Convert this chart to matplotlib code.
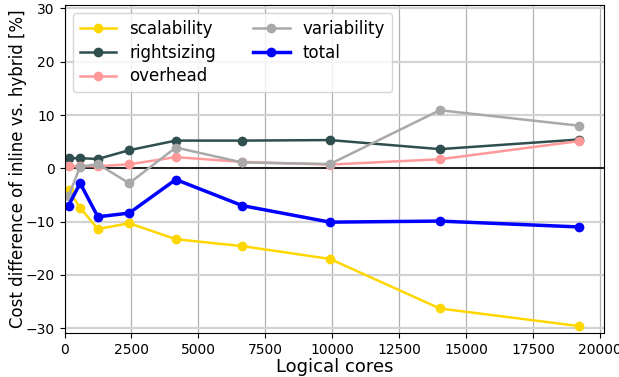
# Cost difference of inline vs. hybrid, per component

import numpy as np
from matplotlib import pyplot as plt

# Data
cores = [150, 585, 1246, 2414, 4157, 6642, 9914, 14019, 19205]
scalability = [-4.1, -7.4, -11.4, -10.3, -13.3, -14.6, -17.0, -26.3, -29.6]
rightsizing = [1.9, 1.9, 1.75, 3.4, 5.2, 5.2, 5.3, 3.6, 5.4]
overhead = [0.4, 0.4, 0.4, 0.75, 2.1, 1.2, 0.7, 1.7, 5.1]
variability = [-5.2, 0.3, 0.8, -2.8, 3.9, 1.1, 0.8, 10.9, 8.0]
total = [-7.0, -2.8, -9.1, -8.4, -2.1, -7.0, -10.1, -9.9, -11.0]

fig = plt.figure(figsize=(6.19, 3.77), dpi=100)
ax = fig.add_axes([64.5/619, 1 - 333/377, 539.5/619, 328.3/377])

ax.plot(cores, scalability, "-o", color="gold", lw=1.8, ms=6, label="scalability")
ax.plot(cores, rightsizing, "-o", color="darkslategray", lw=1.8, ms=6, label="rightsizing")
ax.plot(cores, overhead, "-o", color="#ff9999", lw=1.8, ms=6, label="overhead")
ax.plot(cores, variability, "-o", color="darkgray", lw=1.8, ms=6, label="variability")
ax.plot(cores, total, "-o", color="blue", lw=2.5, ms=6, label="total")

ax.axhline(0, color="black", lw=1.2, zorder=1)
ax.xaxis.grid(True, color="#b0b0b0", lw=0.9)
ax.yaxis.grid(True, color="#d3d3d3", lw=1.6)
ax.set_axisbelow(True)

ax.set_xlim(0, 20150)
ax.set_ylim(-30.9, 30.7)
ax.set_xticks(np.arange(0, 20001, 2500))
ax.set_yticks(np.arange(-30, 31, 10))
ax.tick_params(labelsize=10)

ax.legend(loc="upper left", ncol=2, fontsize=12, handlelength=2.2,
          columnspacing=2.2, borderaxespad=0.5, labelspacing=0.35)
ax.set_xlabel("Logical cores", fontsize=13, labelpad=1)
ax.set_ylabel("Cost difference of inline vs. hybrid [%]", fontsize=12,
              labelpad=-1)

fig.savefig("out.png", dpi=100)
